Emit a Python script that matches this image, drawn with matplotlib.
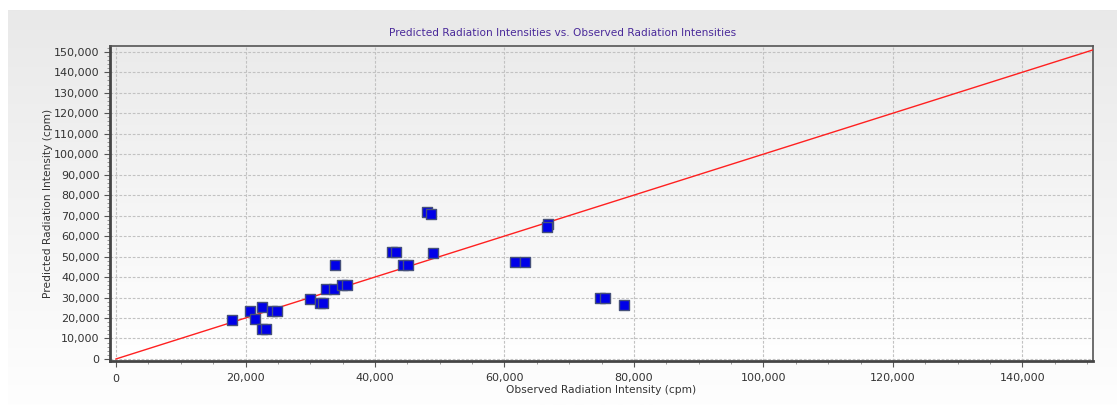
import matplotlib
matplotlib.use("Agg")
import matplotlib.pyplot as plt
import numpy as np
from matplotlib.ticker import MultipleLocator, FuncFormatter

# observed vs predicted radiation intensities (cpm)
observed = [17900, 20700, 21400, 22600, 24100, 24800, 22600, 23200,
            30000, 31500, 31900, 32500, 33700, 34900, 35700, 33800,
            42600, 43200, 44400, 45100, 48100, 48700, 48900,
            66700, 66500, 61700, 63100, 74800, 75600, 78400]
predicted = [19000, 23600, 19700, 25400, 23400, 23400, 14600, 14600,
             29400, 27200, 27200, 34200, 34200, 36300, 36300, 45900,
             52400, 52400, 45900, 45900, 71900, 70900, 51900,
             65900, 64300, 47200, 47200, 29600, 29600, 26400]
fit_line = [0, 152000]

title = "Predicted Radiation Intensities vs. Observed Radiation Intensities"
xlabel = "Observed Radiation Intensity (cpm)"
ylabel = "Predicted Radiation Intensity (cpm)"

W, H = 1117, 405
fig = plt.figure(figsize=(W / 100, H / 100), dpi=100)
fig.patch.set_facecolor("white")

# gray panel with vertical gradient behind everything
grad = np.linspace(0, 1, 256).reshape(-1, 1)
bg = fig.add_axes([8 / W, 0, 1 - 8 / W, 1 - 10 / H], zorder=-10)
bg.imshow(grad, aspect="auto", cmap=matplotlib.colors.LinearSegmentedColormap.from_list(
    "g", ["#e9e9e9", "#fefefe"]), extent=[0, 1, 1, 0])
bg.axis("off")

ax = fig.add_axes([110 / W, 1 - 361 / H, (1093 - 110) / W, (361 - 46) / H])
ax.patch.set_alpha(0)
ax.imshow(grad, aspect="auto", cmap=matplotlib.colors.LinearSegmentedColormap.from_list(
    "g2", ["#ebebeb", "#ffffff"]), extent=[0, 1, 0, 1], transform=ax.transAxes, zorder=0)

ax.plot(fit_line, fit_line, color="#ff2020", lw=1.0, zorder=3)
ax.scatter(observed, predicted, marker="s", s=60, facecolor="#0000e8",
           edgecolor="#45507a", linewidth=1.0, zorder=4)

ax.set_xlim(-930, 150900)
ax.set_ylim(-1000, 152800)

ax.xaxis.set_major_locator(MultipleLocator(20000))
ax.xaxis.set_minor_locator(MultipleLocator(5000))
ax.yaxis.set_major_locator(MultipleLocator(10000))
ax.yaxis.set_minor_locator(MultipleLocator(2000))
fmt = FuncFormatter(lambda v, p: f"{int(v):,}")
ax.xaxis.set_major_formatter(fmt)
ax.yaxis.set_major_formatter(fmt)

ax.grid(True, which="major", color="#c2c2c2", linestyle=(0, (2.5, 1.5)), linewidth=0.8, zorder=1)
ax.set_axisbelow(True)

ax.tick_params(axis="both", which="major", labelsize=8, labelcolor="#333333",
               color="#555555", length=4, width=0.8, direction="out")
ax.tick_params(axis="both", which="minor", color="#888888", length=2, width=0.6, direction="out")
ax.tick_params(axis="x", pad=5)

for side in ["left", "bottom"]:
    ax.spines[side].set_linewidth(2.0)
    ax.spines[side].set_color("#454545")
for side in ["top", "right"]:
    ax.spines[side].set_linewidth(1.2)
    ax.spines[side].set_color("#555555")

ax.set_xlabel(xlabel, fontsize=7.7, color="#333333", labelpad=1)
ax.set_ylabel(ylabel, fontsize=7.7, color="#333333", labelpad=0.5)
fig.text(563 / W, 1 - 33 / H, title, ha="center", va="center",
         fontsize=7.6, color="#4a2a9a")

fig.savefig("out.png", dpi=100)
